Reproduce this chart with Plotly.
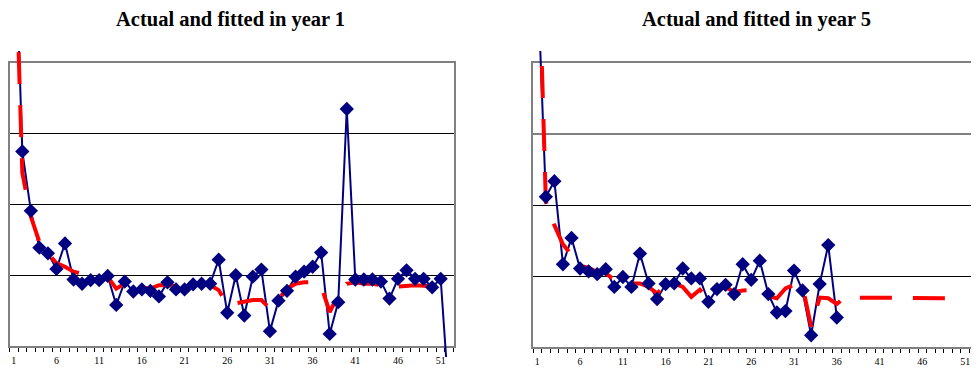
import plotly.graph_objects as go

# ---------------- data ----------------
periods = list(range(1, 53))
tick_labels = [str(v) for v in range(1, 52, 5)]
tick_positions = list(range(1, 52, 5))

actual_year1 = [6.5, 2.75, 1.91, 1.39, 1.31, 1.09, 1.45, 0.94, 0.88, 0.93,
                0.93, 0.99, 0.58, 0.91, 0.77, 0.80, 0.78, 0.70, 0.90, 0.80,
                0.80, 0.87, 0.88, 0.88, 1.22, 0.47, 1.00, 0.43, 0.98, 1.08,
                0.21, 0.64, 0.78, 0.98, 1.05, 1.12, 1.32, 0.17, 0.62, 3.35,
                0.94, 0.94, 0.94, 0.91, 0.67, 0.95, 1.07, 0.95, 0.95, 0.83,
                0.95, -0.8]
fitted_year1 = [6.4, 2.45, 1.83, 1.47, 1.31, 1.17, 1.12, 1.05, 1.02, 1.02,
                0.95, 0.98, 0.81, 0.88, 0.88, 0.83, 0.81, 0.86, 0.86, 0.84,
                0.83, 0.86, 0.87, 0.86, 0.79, 0.58, 0.60, 0.63, 0.65, 0.65,
                0.53, 0.66, 0.81, 0.88, 0.90, 0.90, 0.85, 0.48, 0.72, 0.88,
                0.90, 0.88, 0.88, 0.86, 0.84, 0.84, 0.85, 0.86, 0.85, 0.84,
                0.84]
actual_year5 = [5.3, 2.12, 2.34, 1.17, 1.54, 1.11, 1.07, 1.03, 1.10, 0.85,
                0.99, 0.85, 1.32, 0.90, 0.68, 0.89, 0.90, 1.11, 0.97, 0.97,
                0.64, 0.82, 0.88, 0.75, 1.17, 0.95, 1.22, 0.75, 0.49, 0.51,
                1.08, 0.80, 0.17, 0.89, 1.44, 0.42]
fitted_year5 = [6.2, 2.05, 1.72, 1.45, 1.30, 1.15, 1.12, 1.06, 1.04, 0.95,
                0.92, 0.90, 0.90, 0.85, 0.76, 0.88, 0.90, 0.85, 0.71, 0.81,
                0.69, 0.82, 0.85, 0.78, 0.80, 0.81, 0.81, 0.72, 0.69, 0.83,
                0.88, 0.86, 0.29, 0.70, 0.69, 0.61, 0.71, 0.70, 0.70, 0.70,
                0.70, 0.70, 0.70, 0.70, 0.69, 0.69, 0.69, 0.69, 0.69, 0.69,
                0.69]

titles = ["Actual and fitted in year 1", "Actual and fitted in year 5"]

# ---------------- layout geometry (page pixels; page body has an 8px margin) ----------------
PAGE_W, PAGE_H = 979, 372
OFF = 8
W, H = PAGE_W - OFF, PAGE_H - OFF
Y_MAX = 4


def fx(px):
    return (px - OFF) / W


def fy(px):
    return 1 - (px - OFF) / H


NAVY = "#000080"
RED = "#FF0000"
GREY = "#808080"
FONT = "Liberation Serif"

fig = go.Figure()

panels = [
    dict(l=9.5, r=453.5, t=63, b=346, dt=51, db=357,
         actual=actual_year1, fitted=fitted_year1, fa=("x", "y"), da=("x3", "y3"), title_cx=230),
    dict(l=533, r=978, t=63.3, b=347.3, dt=51, db=357,
         actual=actual_year5, fitted=fitted_year5, fa=("x2", "y2"), da=("x4", "y4"), title_cx=756),
]

# invisible carrier traces so that the frame sub-plots (axes, grid, ticks) get drawn
for p in panels:
    fxk, fyk = p["fa"]
    fig.add_trace(go.Scatter(x=periods[:len(p["actual"])], y=p["actual"], mode="none",
                             xaxis=fxk, yaxis=fyk, showlegend=False, hoverinfo="skip"))
fig.add_trace(go.Scatter(x=periods[:len(actual_year5)], y=actual_year5, mode="none",
                         xaxis="x2", yaxis="y5", showlegend=False, hoverinfo="skip"))

for i, p in enumerate(panels):
    pxu = (p["b"] - p["t"]) / Y_MAX
    lo = -(p["db"] - p["b"]) / pxu
    hi = Y_MAX + (p["t"] - p["dt"]) / pxu
    n_act = len(p["actual"])
    xs_act = periods[:n_act]
    xs_fit = periods[:len(p["fitted"])]
    sizes = [11 if 0 <= v <= Y_MAX else 0 for v in p["actual"]]
    dx, dy = p["da"]
    fig.add_trace(go.Scatter(x=xs_act, y=p["actual"], mode="lines",
                             line=dict(color=NAVY, width=2),
                             xaxis=dx, yaxis=dy, showlegend=False, hoverinfo="skip"))
    fig.add_trace(go.Scatter(x=xs_fit, y=p["fitted"], mode="lines",
                             line=dict(color=RED, width=4, dash="32px,21px"),
                             xaxis=dx, yaxis=dy, showlegend=False, hoverinfo="skip"))
    fig.add_trace(go.Scatter(x=xs_act, y=p["actual"], mode="markers",
                             marker=dict(symbol="diamond", size=sizes, color=NAVY,
                                         opacity=1, line=dict(width=0)),
                             xaxis=dx, yaxis=dy, showlegend=False, hoverinfo="skip"))

    fxk, fyk = p["fa"]
    fxname = "xaxis" if fxk == "x" else "xaxis" + fxk[1:]
    fyname = "yaxis" if fyk == "y" else "yaxis" + fyk[1:]
    dxname = "xaxis" + dx[1:]
    dyname = "yaxis" + dy[1:]

    xdom = [fx(p["l"]), min(1.0, fx(p["r"]))]
    grid_vals = [1, 2, 3] if i == 0 else [1, 2]
    fig.update_layout(**{
        fxname: dict(domain=xdom, anchor=fyk, range=[0.5, 52.5],
                     tickmode="array", tickvals=tick_positions, ticktext=tick_labels,
                     ticks="outside", ticklen=4, tickcolor="rgba(0,0,0,0)",
                     tickfont=dict(family=FONT, size=10, color="black"),
                     minor=dict(tickmode="linear", tick0=0.5, dtick=1, ticks="outside",
                                ticklen=4, tickcolor="black", tickwidth=1, showgrid=False),
                     showline=True, mirror=True, linecolor=GREY, linewidth=2,
                     showgrid=False, zeroline=False, fixedrange=True),
        fyname: dict(domain=[fy(p["b"]), fy(p["t"])], anchor=fxk, range=[0, Y_MAX],
                     tickmode="array", tickvals=grid_vals, showticklabels=False,
                     ticks="", showgrid=True, gridcolor="black", gridwidth=1,
                     showline=True, mirror=True, linecolor=GREY, linewidth=2,
                     zeroline=False, fixedrange=True),
        dxname: dict(domain=xdom, anchor=dy, range=[0.5, 52.5], visible=False,
                     fixedrange=True),
        dyname: dict(domain=[fy(p["db"]), fy(p["dt"])], anchor=dx, range=[lo, hi],
                     visible=False, fixedrange=True),
    })
    fig.add_annotation(text="<b>%s</b>" % titles[i], xref="paper", yref="paper",
                       x=fx(p["title_cx"]), y=fy(19), xanchor="center", yanchor="middle",
                       showarrow=False, font=dict(family=FONT, size=20.5, color="black"))

fig.update_layout(yaxis5=dict(overlaying="y2", anchor="x2", range=[0, Y_MAX],
                              tickmode="array", tickvals=[3], showticklabels=False,
                              ticks="", showgrid=True, gridcolor=GREY, gridwidth=2,
                              showline=False, zeroline=False, fixedrange=True))

fig.update_layout(width=W, height=H, margin=dict(l=0, r=0, t=0, b=0),
                  paper_bgcolor="white", plot_bgcolor="rgba(0,0,0,0)",
                  showlegend=False)

fig.write_html("out.html")
